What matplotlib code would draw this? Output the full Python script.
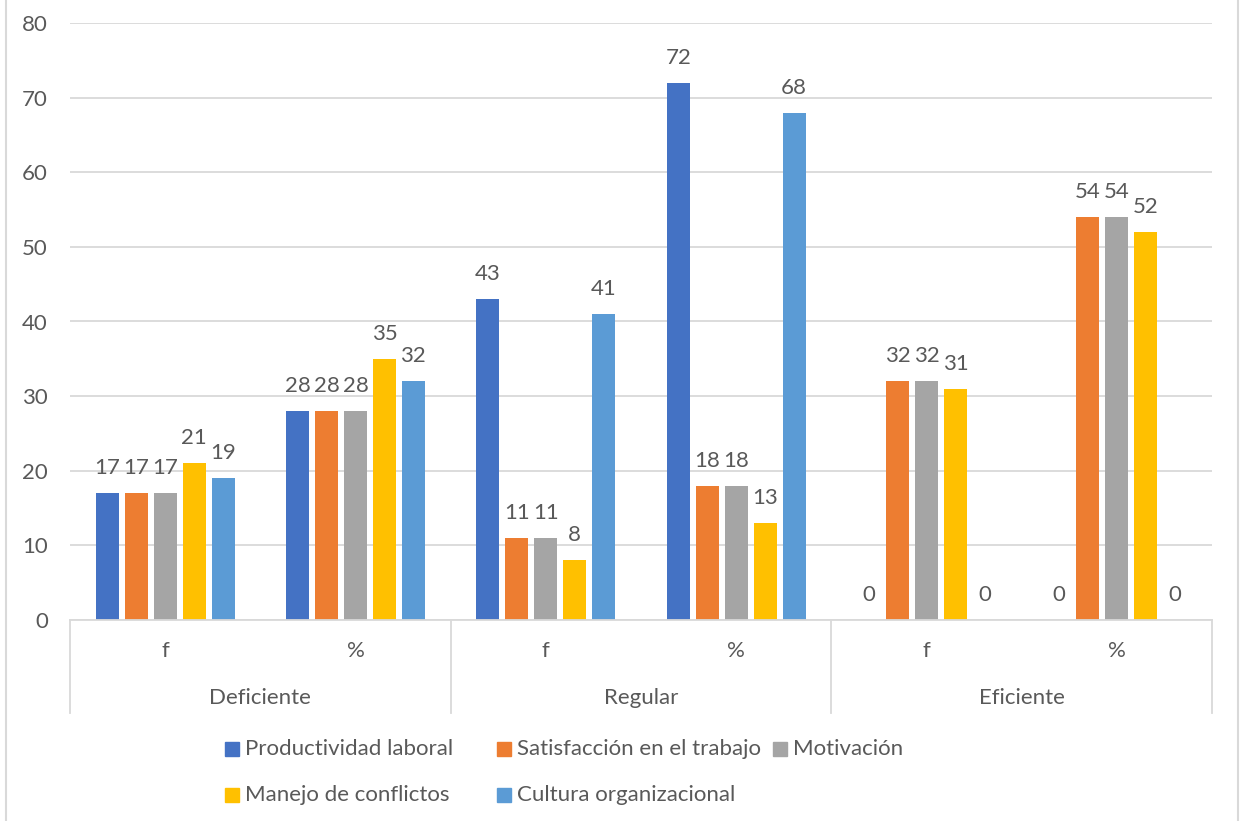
import numpy as np
import matplotlib.pyplot as plt
from matplotlib.lines import Line2D
from matplotlib.patches import Rectangle

plt.rcParams['font.family'] = ['Lato', 'DejaVu Sans']

niveles = ['Deficiente', 'Regular', 'Eficiente']
medidas = ['f', '%']
series = ['Productividad laboral', 'Satisfacción en el trabajo', 'Motivación',
          'Manejo de conflictos', 'Cultura organizacional']
productividad = [17, 28, 43, 72, 0, 0]
satisfaccion = [17, 28, 11, 18, 32, 54]
motivacion = [17, 28, 11, 18, 32, 54]
conflictos = [21, 35, 8, 13, 31, 52]
cultura = [19, 32, 41, 68, 0, 0]
colores = ['#4472C4', '#ED7D31', '#A5A5A5', '#FFC000', '#5B9BD5']

datos = [productividad, satisfaccion, motivacion, conflictos, cultura]
gris = '#595959'
linea = '#D9D9D9'
fs = 16

fig = plt.figure(figsize=(12.4, 8.21), dpi=100)
ax = fig.add_axes([70/1240, 1-620/821, (1212-70)/1240, (620-23)/821])

x = np.arange(6)
paso = 0.152
ancho = 0.121
for i in range(5):
    pos = x + (i-2)*paso
    ax.bar(pos, datos[i], width=ancho, color=colores[i], label=series[i])
    for p, v in zip(pos, datos[i]):
        ax.annotate(str(v), (p, v), xytext=(0, 18), textcoords='offset points',
                    ha='center', va='center', fontsize=fs, color=gris)

ax.set_xlim(-0.5, 5.5)
ax.set_ylim(0, 80)
ax.set_yticks(range(0, 81, 10))
ax.tick_params(axis='y', length=0, pad=16, labelsize=fs, labelcolor=gris)
ax.set_xticks([])
ax.grid(axis='y', color=linea, linewidth=1.3)
ax.set_axisbelow(True)
for s in ['top', 'right', 'left']:
    ax.spines[s].set_visible(False)
ax.spines['bottom'].set_color(linea)
ax.spines['bottom'].set_linewidth(1.3)

# eje de categorías en dos niveles
tr = ax.get_xaxis_transform()
alto = 597
for xs in [-0.5, 1.5, 3.5, 5.5]:
    ax.add_line(Line2D([xs, xs], [0, -93/alto], transform=tr, color=linea,
                       linewidth=1.3, clip_on=False))
for j in range(6):
    ax.text(j, -31/alto, medidas[j % 2], transform=tr, ha='center', va='center',
            fontsize=fs, color=gris)
for k in range(3):
    ax.text(2*k + 0.5, -78/alto, niveles[k], transform=tr, ha='center', va='center',
            fontsize=fs, color=gris)

# leyenda en dos filas, como la de Excel
ley_x = [225, 497, 773, 225, 497]
ley_y = [749, 749, 749, 795, 795]
for c, nombre, lx, ly in zip(colores, series, ley_x, ley_y):
    fig.add_artist(Rectangle((lx/1240, 1-(ly+7)/821), 14/1240, 14/821,
                             transform=fig.transFigure, color=c))
    fig.text((lx+20)/1240, 1-ly/821, nombre, ha='left', va='center',
             fontsize=fs, color=gris)

# borde del gráfico
for bx in [6/1240, 1238/1240]:
    fig.add_artist(Line2D([bx, bx], [0, 1], transform=fig.transFigure, color=linea, linewidth=1.5))

fig.savefig('out.png', dpi=100)
